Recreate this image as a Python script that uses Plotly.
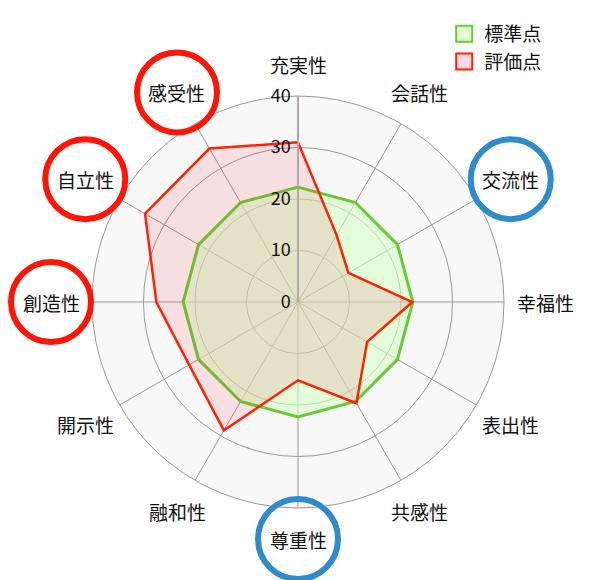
import math
import plotly.graph_objects as go

# 評価項目（上から時計回り）
categories = ["充実性", "会話性", "交流性", "幸福性", "表出性", "共感性",
              "尊重性", "融和性", "開示性", "創造性", "自立性", "感受性"]
standard = [22.3, 22.3, 22.3, 22.3, 22.3, 22.3, 22.3, 22.3, 22.3, 22.3, 22.3, 22.3]
evaluation = [31, 15, 11.3, 22.2, 15.5, 22.7, 15.2, 28.8, 24.4, 27.5, 34.3, 34.4]
radial_ticks = [0, 10, 20, 30, 40]

# 丸で囲む項目
highlight_red = ["感受性", "自立性", "創造性"]
highlight_blue = ["交流性", "尊重性"]

FONT = "Noto Sans CJK JP"

fig = go.Figure()

# 標準点
fig.add_trace(go.Scatterpolar(
    r=standard + standard[:1],
    theta=categories + categories[:1],
    mode="lines",
    fill="toself",
    fillcolor="rgba(214,255,198,0.6)",
    line=dict(color="#66cc33", width=3),
    showlegend=False,
    hoverinfo="skip",
))

# 評価点
fig.add_trace(go.Scatterpolar(
    r=evaluation + evaluation[:1],
    theta=categories + categories[:1],
    mode="lines",
    fill="toself",
    fillcolor="rgba(245,30,50,0.11)",
    line=dict(color="#ff2200", width=2.5),
    showlegend=False,
    hoverinfo="skip",
))

# legend only entries (square swatches)
for name, fillc, linec in [("標準点", "#e2ffd6", "#66cc33"), ("評価点", "#ffd9e2", "#ff2200")]:
    fig.add_trace(go.Scatterpolar(
        r=[None], theta=[None], mode="markers", name=name,
        marker=dict(symbol="square", size=20, color=fillc, line=dict(color=linec, width=2)),
    ))

# category labels placed round the chart (chart.js style), with circles on some
plot_size = 412
shapes = []
annotations = []
for i, cat in enumerate(categories):
    ang = math.radians(90 - 30 * i)
    label_rad = 237 + 10 * abs(math.cos(ang))   # side labels sit a bit further out
    cx = 0.5 + label_rad * math.cos(ang) / plot_size
    cy = 0.5 + label_rad * math.sin(ang) / plot_size
    annotations.append(dict(
        x=cx, y=cy, xref="paper", yref="paper", text=cat, showarrow=False,
        xanchor="center", yanchor="middle", font=dict(size=19, color="#111"),
    ))
    if cat in highlight_red or cat in highlight_blue:
        col = "#ff1408" if cat in highlight_red else "#2f8ccc"
        shapes.append(dict(
            type="circle", xref="paper", yref="paper",
            xsizemode="pixel", ysizemode="pixel",
            xanchor=cx, yanchor=cy, x0=-40, x1=40, y0=-40, y1=40,
            line=dict(color=col, width=6), fillcolor="rgba(0,0,0,0)",
            layer="above",
        ))

fig.update_layout(
    width=600, height=580,
    margin=dict(l=84, r=104, t=88, b=80, autoexpand=False),
    paper_bgcolor="white",
    font=dict(family=FONT, size=19, color="#111"),
    showlegend=True,
    legend=dict(
        xref="container", yref="container", x=0.727, y=0.988,
        xanchor="left", yanchor="top",
        font=dict(size=19, color="#111"),
        bgcolor="rgba(0,0,0,0)", tracegroupgap=0,
    ),
    polar=dict(
        bgcolor="#f8f8f8",
        radialaxis=dict(
            range=[0, 40], tickvals=radial_ticks, angle=90, tickangle=90,
            side="counterclockwise",
            showline=True, linecolor="#aaaaaa", linewidth=2,
            gridcolor="#999999", gridwidth=1,
            ticks="", tickfont=dict(size=18, color="#111"),
        ),
        angularaxis=dict(
            direction="clockwise", rotation=90,
            showline=True, linecolor="#999999", linewidth=1,
            gridcolor="#999999", gridwidth=1,
            ticks="", showticklabels=False,
        ),
    ),
    shapes=shapes,
    annotations=annotations,
)

fig.write_html("out.html")
